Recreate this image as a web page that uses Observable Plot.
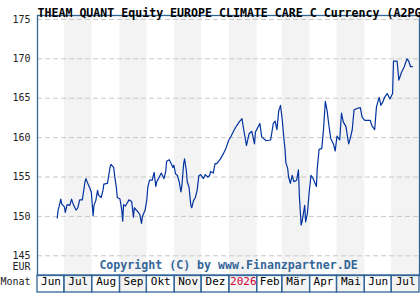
<!DOCTYPE html>
<html><head><meta charset="utf-8">
<script src="https://cdn.jsdelivr.net/npm/d3@7"></script>
<script src="https://cdn.jsdelivr.net/npm/@observablehq/plot@0.6"></script>
<style>html,body{margin:0;padding:0;background:#fff;overflow:hidden;width:420px;height:300px}</style>
</head><body><div id="chart"></div>
<script>
const titleText = "THEAM QUANT Equity EUROPE CLIMATE CARE C Currency (A2PG";
const copyrightText = "Copyright (C) by www.Finanzpartner.DE";
const yTicks = [145, 150, 155, 160, 165, 170, 175];
const monthLabels = ["Jun","Jul","Aug","Sep","Okt","Nov","Dez","2026","Feb","Mär","Apr","Mai","Jun","Jul"];
const startDate = "2025-06-01";
const endDate = "2026-08-01";

const dates = [
"2025-06-23","2025-06-24","2025-06-25","2025-06-27","2025-06-28",
"2025-07-01","2025-07-02","2025-07-04","2025-07-07","2025-07-09","2025-07-11","2025-07-14","2025-07-16","2025-07-18","2025-07-21","2025-07-24","2025-07-25","2025-07-27","2025-07-29","2025-07-31",
"2025-08-01","2025-08-02","2025-08-03","2025-08-05","2025-08-07","2025-08-08","2025-08-11","2025-08-13","2025-08-14","2025-08-18","2025-08-20","2025-08-21","2025-08-22","2025-08-25","2025-08-26","2025-08-28","2025-08-29",
"2025-09-01","2025-09-03","2025-09-04","2025-09-05","2025-09-07","2025-09-09","2025-09-11","2025-09-14","2025-09-16","2025-09-17","2025-09-20","2025-09-23","2025-09-25","2025-09-26","2025-09-29",
"2025-10-01","2025-10-02","2025-10-04","2025-10-07","2025-10-09","2025-10-11","2025-10-12","2025-10-14","2025-10-17","2025-10-20","2025-10-22","2025-10-23","2025-10-26","2025-10-28","2025-10-30","2025-10-31",
"2025-11-02","2025-11-04","2025-11-06","2025-11-08","2025-11-09","2025-11-11","2025-11-12","2025-11-14","2025-11-15","2025-11-17","2025-11-19","2025-11-20","2025-11-22","2025-11-24","2025-11-26","2025-11-28","2025-11-30",
"2025-12-03","2025-12-05","2025-12-08","2025-12-10","2025-12-11","2025-12-14","2025-12-16","2025-12-18","2025-12-22","2025-12-25","2025-12-28","2025-12-31",
"2026-01-03","2026-01-06","2026-01-09","2026-01-12","2026-01-15","2026-01-17","2026-01-20","2026-01-23","2026-01-26","2026-01-29","2026-01-30",
"2026-02-04","2026-02-06","2026-02-11","2026-02-16","2026-02-19","2026-02-21","2026-02-23","2026-02-25","2026-02-27",
"2026-03-01","2026-03-03","2026-03-04","2026-03-05","2026-03-07","2026-03-08","2026-03-10","2026-03-12","2026-03-14","2026-03-17","2026-03-19","2026-03-20","2026-03-22","2026-03-23","2026-03-26","2026-03-27","2026-03-29","2026-03-31",
"2026-04-02","2026-04-04","2026-04-08","2026-04-09","2026-04-11","2026-04-14","2026-04-16","2026-04-18","2026-04-20","2026-04-22","2026-04-24","2026-04-27","2026-04-29",
"2026-05-01","2026-05-04","2026-05-06","2026-05-08","2026-05-11","2026-05-14","2026-05-16","2026-05-18","2026-05-20","2026-05-23","2026-05-27","2026-05-29",
"2026-06-01","2026-06-03","2026-06-07","2026-06-09","2026-06-12","2026-06-14","2026-06-17","2026-06-19","2026-06-21","2026-06-23","2026-06-26","2026-06-29",
"2026-07-02","2026-07-03","2026-07-07","2026-07-09","2026-07-12","2026-07-15","2026-07-18","2026-07-20","2026-07-22","2026-07-24"
];
const prices = [
149.8,150.8,151.2,152.2,151.6,
151.2,150.5,151.5,151.4,152.2,151.5,150.8,151.1,152.1,152.1,154.4,154.8,154.2,153.7,153.1,
151.6,150.1,151.4,152.0,153.3,152.7,152.4,153.3,154.1,154.2,155.6,156.3,156.6,156.2,155.2,153.6,152.4,
152.2,150.8,149.4,151.5,151.3,151.7,152.1,151.9,149.9,151.1,150.7,150.3,149.1,150.0,150.8,
152.2,153.7,154.6,154.6,155.6,153.8,154.4,154.8,155.5,154.8,155.7,157.0,157.2,156.7,156.2,156.5,
155.4,155.2,154.4,153.1,153.9,156.7,157.3,155.8,154.4,153.7,151.4,151.1,152.0,152.4,153.3,155.2,155.3,
154.8,155.3,155.0,155.2,155.7,155.5,156.7,156.7,157.3,157.9,158.6,159.6,
160.2,160.9,161.5,162.0,162.4,161.0,159.0,160.5,160.8,159.2,160.7,
161.8,160.1,159.6,159.7,161.8,162.1,161.0,163.4,164.1,
162.2,159.6,158.6,156.8,156.1,155.0,154.2,155.2,154.4,154.6,155.9,152.7,148.9,149.3,151.4,149.3,150.4,153.1,
155.2,154.9,153.8,156.1,158.5,158.6,161.1,164.6,163.4,161.5,159.9,159.2,158.3,
160.2,159.7,163.1,162.0,161.4,159.2,160.0,161.0,163.5,163.7,163.8,162.6,
162.2,162.2,162.2,161.5,161.0,163.9,165.1,164.1,164.5,165.1,165.6,164.9,
165.6,169.7,169.7,167.3,168.3,169.0,170.0,169.7,169.0,169.0
];

const series = dates.map((d, i) => ({date: new Date(d), value: prices[i]}));
const monthStarts = d3.utcMonth.range(new Date(startDate), new Date(endDate));
const months = monthStarts.map((s, i) => ({
  start: s,
  end: d3.utcMonth.offset(s, 1),
  mid: new Date((+s + +d3.utcMonth.offset(s, 1)) / 2),
  label: monthLabels[i],
  shaded: i % 2 === 1
}));

const W = 420, H = 300, mt = 15, mb = 25, ml = 37, mr = 1, rowH = 17;
const frameBlue = "#336699";

const chart = Plot.plot({
  width: W, height: H,
  marginTop: mt, marginBottom: mb, marginLeft: ml, marginRight: mr,
  style: {fontFamily: "'DejaVu Sans Mono', monospace", fontSize: "10px", background: "#fff", overflow: "visible"},
  x: {type: "utc", domain: [new Date(startDate), new Date(endDate)], axis: null, label: null},
  y: {domain: [142.5, 175.5], axis: null, label: null},
  marks: [
    Plot.rect(months.filter(m => m.shaded), {x1: "start", x2: "end", fill: "#f3f3f3", insetBottom: -rowH}),
    Plot.ruleY(yTicks, {stroke: "#c8c8c8", strokeDasharray: "5,3"}),
    Plot.axisY(yTicks, {tickSize: 0, tickPadding: 7, fontSize: 10, fill: "#222", label: null}),
    Plot.line(series, {x: "date", y: "value", stroke: "#0033a0", strokeWidth: 1.2}),
    Plot.text([copyrightText], {frameAnchor: "bottom", dy: -7, fill: frameBlue, fontWeight: "bold", fontSize: 11.6}),
    Plot.frame({stroke: frameBlue, strokeWidth: 1.3}),
    Plot.rect(months, {x1: "start", x2: "end", stroke: frameBlue, strokeWidth: 1.3, fill: "none", insetTop: H - mt - mb, insetBottom: -rowH}),
    Plot.text(months, {x: "mid", frameAnchor: "bottom", dy: 9, text: "label", fontSize: 11,
      fill: d => d.label === "2026" ? "#cc0033" : "#000"}),
    Plot.text(["EUR"], {frameAnchor: "bottom-left", dx: -7, dy: -6, textAnchor: "end", fontSize: 10, fill: "#222"}),
    Plot.text(["Monat"], {frameAnchor: "bottom-left", dx: -7, dy: 9, textAnchor: "end", fontSize: 10, fill: "#222"}),
    Plot.text([titleText], {frameAnchor: "top-left", dy: -7, textAnchor: "start", fontWeight: "bold", fontSize: 11.6, fill: "#000"})
  ]
});
document.getElementById("chart").append(chart);
</script>
</body></html>
